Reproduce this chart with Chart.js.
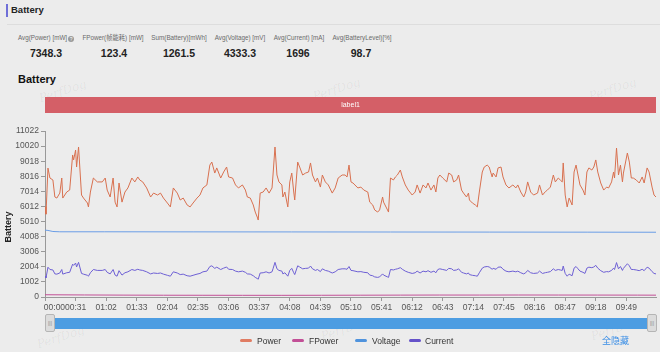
<!DOCTYPE html>
<html><head><meta charset="utf-8">
<script src="https://cdn.jsdelivr.net/npm/chart.js@4.4.1/dist/chart.umd.min.js"></script>
<style>
html,body{margin:0;padding:0;}
body{width:660px;height:352px;background:#ececec;position:relative;overflow:hidden;font-family:"Liberation Sans",Arial,"Noto Sans CJK SC",sans-serif;}
#c{position:absolute;left:0;top:0;}
.abs{position:absolute;white-space:nowrap;}
.lab{position:absolute;width:90px;text-align:center;font-size:6.3px;line-height:8px;color:#6a6a6a;top:34px;}
.val{position:absolute;width:90px;text-align:center;font-size:10.5px;line-height:13px;font-weight:bold;color:#222;top:47px;}
.wm{position:absolute;font-family:"DejaVu Serif",serif;font-style:italic;font-size:12px;color:rgba(0,0,0,0.055);transform:rotate(-18deg);}
.lg{position:absolute;top:336px;font-size:8.5px;line-height:10px;color:#333;}
.ic{position:absolute;top:339px;width:12px;height:3px;border-radius:2px;}
</style></head><body>
<div class="abs" style="left:6px;top:4px;width:2px;height:13px;background:#6f6fd8"></div>
<div class="abs" style="left:11px;top:4px;font-size:9.5px;font-weight:bold;color:#222;line-height:12px">Battery</div>
<div class="abs" style="left:7px;right:0;top:24px;height:1px;background:#dddddd"></div>

<div class="lab" style="left:1px">Avg(Power) [mW]<span style="display:inline-block;width:6px;height:6px;border-radius:50%;background:#999;color:#fff;font-size:5px;line-height:6px;margin-left:1px;vertical-align:-1px">?</span></div>
<div class="lab" style="left:68px">FPower(帧能耗) [mW]</div>
<div class="lab" style="left:134px">Sum(Battery)[mWh]</div>
<div class="lab" style="left:195px">Avg(Voltage) [mV]</div>
<div class="lab" style="left:254px">Avg(Current) [mA]</div>
<div class="lab" style="left:317px">Avg(BatteryLevel)[%]</div>
<div class="val" style="left:1px">7348.3</div>
<div class="val" style="left:69px">123.4</div>
<div class="val" style="left:134px">1261.5</div>
<div class="val" style="left:195px">4333.3</div>
<div class="val" style="left:253px">1696</div>
<div class="val" style="left:316px">98.7</div>

<div class="abs" style="left:18px;top:72px;font-size:11px;font-weight:bold;color:#111;line-height:14px">Battery</div>

<div class="wm" style="left:38px;top:84px">PerfDog</div>
<div class="wm" style="left:312px;top:82px">PerfDog</div>
<div class="wm" style="left:588px;top:82px">PerfDog</div>
<div class="wm" style="left:36px;top:330px">PerfDog</div>
<div class="wm" style="left:320px;top:322px">PerfDog</div>
<div class="wm" style="left:590px;top:322px">PerfDog</div>

<canvas id="c" width="660" height="352"></canvas>

<div class="abs" style="left:47px;top:318px;width:607px;height:11px;background:#4d9de2"></div>
<div class="abs" style="left:45px;top:314px;width:10px;height:18px;background:#dcdcdc;border:1px solid #b5b5b5;border-radius:2px;box-sizing:border-box;font-size:5px;color:#888;text-align:center;line-height:16px">|||</div>
<div class="abs" style="left:647px;top:314px;width:10px;height:18px;background:#dcdcdc;border:1px solid #b5b5b5;border-radius:2px;box-sizing:border-box;font-size:5px;color:#888;text-align:center;line-height:16px">|||</div>

<div class="ic" style="left:240px;background:#e07c62"></div><div class="lg" style="left:257px">Power</div>
<div class="ic" style="left:292px;background:#c24f96"></div><div class="lg" style="left:309px">FPower</div>
<div class="ic" style="left:355px;background:#4f93dd"></div><div class="lg" style="left:372px">Voltage</div>
<div class="ic" style="left:409px;background:#6552c9"></div><div class="lg" style="left:425px">Current</div>
<div class="abs" style="left:602px;top:336px;font-size:9px;line-height:10px;color:#3a8ee6">全隐藏</div>

<script>
const times = [0,1,3,5,8,10,12,15,17,18,22,25,28,29,31,32,34,37,39,43,44,46,49,53,58,61,63,66,69,71,73,75,78,81,84,88,91,94,96,99,103,107,110,114,117,120,124,127,130,134,137,140,144,147,150,154,157,160,164,167,169,172,174,178,181,184,186,190,193,196,200,203,205,208,211,213,215,216,218,221,224,227,230,231,233,235,237,240,241,243,246,248,250,252,253,256,258,261,264,267,269,271,274,276,279,281,284,287,291,294,297,301,304,306,308,310,312,317,320,323,327,329,332,334,337,339,342,343,347,348,350,353,355,357,360,362,365,368,372,375,377,380,383,386,388,391,394,396,398,400,403,407,409,412,414,417,419,422,424,427,429,430,433,436,438,440,443,445,448,450,453,454,457,459,462,464,467,470,474,477,479,482,485,487,489,492,495,499,501,504,507,509,512,515,517,520,522,524,525,527,529,531,534,536,538,540,542,545,547,549,551,554,556,558,560,563,566,569,571,574,576,577,579,581,583,585,586,589,590,592,594,596,599,602,605,607,610,612,615,617,619];
const power = [6000,5500,8560,7900,7770,6640,6570,6900,7900,6570,6970,7100,9430,9100,9760,8630,9960,6770,6570,6240,5980,6970,7900,7640,7640,7900,7100,6640,7900,6300,5980,7570,6300,6970,7240,7900,7640,7970,7770,7640,7240,6640,6900,6770,6900,6570,6240,5980,7240,6900,6440,6570,6110,5980,6240,6570,6770,7240,7440,8760,8960,8230,8570,7900,8300,8630,7970,7900,7440,7240,7440,7100,6640,6570,6110,5640,5310,5110,6900,6970,7240,6900,7240,8100,9960,8100,7640,7440,6640,6970,5980,7640,8230,6970,6440,8960,8630,8100,8230,8300,8900,8100,7640,7900,7300,8100,7640,7440,6900,7240,7900,8100,8100,7970,8760,7640,7570,7240,7300,7100,6970,6300,6110,5780,5640,5780,6640,6300,5780,5640,7900,7770,7970,8100,8430,7970,7440,7100,6770,6970,7440,6900,7440,7240,7570,7100,7440,6970,7900,8100,7900,7640,8230,8100,7640,7770,8100,7100,6900,6640,6900,6440,6240,6110,5980,6970,8300,8630,8760,8630,7970,8230,7970,8570,8630,7970,7440,7240,7440,7240,7440,6970,6640,6970,7640,6970,6770,6900,7440,6770,7000,7100,7300,8100,7640,7900,7770,7640,8900,6770,5980,6570,6110,8300,8760,8100,7440,7100,6770,8300,8570,8430,8630,9100,8300,7570,7100,7300,7240,7640,8300,7900,9890,8100,8760,7640,8230,9230,9560,8960,7900,7900,7770,7570,7970,7570,8570,8300,7300,6770,6640];
const current = [1386,1270,1977,1825,1795,1534,1518,1594,1825,1518,1610,1640,2178,2102,2255,1994,2301,1564,1518,1441,1381,1610,1825,1765,1765,1825,1640,1534,1825,1455,1381,1749,1455,1610,1672,1825,1765,1841,1795,1765,1672,1534,1594,1564,1594,1518,1441,1381,1672,1594,1488,1518,1411,1381,1441,1518,1564,1672,1719,2024,2070,1901,1980,1825,1917,1994,1841,1825,1719,1672,1719,1640,1534,1518,1411,1303,1227,1180,1594,1610,1672,1594,1672,1871,2301,1871,1765,1719,1534,1610,1381,1765,1901,1610,1488,2070,1994,1871,1901,1917,2056,1871,1765,1825,1686,1871,1765,1719,1594,1672,1825,1871,1871,1841,2024,1765,1749,1672,1686,1640,1610,1455,1411,1335,1303,1335,1534,1455,1335,1303,1825,1795,1841,1871,1947,1841,1719,1640,1564,1610,1719,1594,1719,1672,1749,1640,1719,1610,1825,1871,1825,1765,1901,1871,1765,1795,1871,1640,1594,1534,1594,1488,1441,1411,1381,1610,1917,1994,2024,1994,1841,1901,1841,1980,1994,1841,1719,1672,1719,1672,1719,1610,1534,1610,1765,1610,1564,1594,1719,1564,1617,1640,1686,1871,1765,1825,1795,1765,2056,1564,1381,1518,1411,1917,2024,1871,1719,1640,1564,1917,1980,1947,1994,2102,1917,1749,1640,1686,1672,1765,1917,1825,2285,1871,2024,1765,1901,2132,2208,2070,1825,1825,1795,1749,1841,1749,1980,1917,1686,1564,1534];
const voltTimes = [0,3,8,15,60,150,250,350,450,550,619];
const voltage = [4440,4420,4350,4330,4330,4325,4320,4315,4310,4305,4300];
const fpTimes = [0,40,80,120,160,200,240,280,320,360,400,440,480,520,560,600,619];
const fpower = [150,135,125,118,115,112,110,115,120,125,130,128,132,130,128,125,122];
const yTickVals = [0,1002,2004,3006,4008,5010,6012,7014,8016,9018,10020,11022];
const xTickVals = [0,31,62,93,124,155,186,217,248,279,310,341,372,403,434,465,496,527,558,589];
const xTickLabels = ['00:00','00:31','01:02','01:33','02:04','02:35','03:06','03:37','04:08','04:39','05:10','05:41','06:12','06:43','07:14','07:45','08:16','08:47','09:18','09:49'];
const seriesNames = ['Power','FPower','Voltage','Current'];
const seriesColors = ['#d8704f','#c24f96','#6a9de6','#6d5fd4'];
const rangeLabel = 'label1';
const yTitle = 'Battery';

const pts = (xs, ys) => xs.map((x, i) => ({x: x, y: ys[i]}));

const overlay = {
  id: 'overlay',
  afterDraw(chart) {
    const ctx = chart.ctx, a = chart.chartArea;
    ctx.save();
    ctx.fillStyle = '#d45f67';
    ctx.fillRect(a.left, 97, a.right - a.left, 16);
    ctx.fillStyle = '#ffffff';
    ctx.font = '7px "Liberation Sans", Arial, sans-serif';
    ctx.textAlign = 'center';
    ctx.textBaseline = 'middle';
    ctx.fillText(rangeLabel, (a.left + a.right) / 2, 105.5);
    ctx.translate(9, 227);
    ctx.rotate(-Math.PI / 2);
    ctx.fillStyle = '#222';
    ctx.font = 'bold 9px "Liberation Sans", Arial, sans-serif';
    ctx.fillText(yTitle, 0, 0);
    ctx.restore();
  }
};

new Chart(document.getElementById('c'), {
  type: 'line',
  data: {
    datasets: [
      {label: seriesNames[0], data: pts(times, power), borderColor: seriesColors[0]},
      {label: seriesNames[1], data: pts(fpTimes, fpower), borderColor: seriesColors[1]},
      {label: seriesNames[2], data: pts(voltTimes, voltage), borderColor: seriesColors[2]},
      {label: seriesNames[3], data: pts(times, current), borderColor: seriesColors[3]}
    ]
  },
  options: {
    responsive: false,
    animation: false,
    events: [],
    layout: {padding: {left: 0, top: 131, right: 4, bottom: 39}},
    elements: {point: {radius: 0}, line: {borderWidth: 1, tension: 0}},
    plugins: {legend: {display: false}, tooltip: {enabled: false}},
    scales: {
      x: {
        type: 'linear', min: 0, max: 619,
        afterBuildTicks: s => { s.ticks = xTickVals.map(v => ({value: v})); },
        afterFit: s => { s.height = 16; },
        ticks: {
          autoSkip: false, maxRotation: 0, minRotation: 0, padding: 2,
          color: '#555', font: {size: 8.5, family: '"Liberation Sans", Arial, sans-serif'},
          callback: (v, i) => i === 0 ? '        ' + xTickLabels[0] : xTickLabels[i]
        },
        grid: {display: true, drawOnChartArea: false, drawTicks: true, tickLength: 4, color: '#999'},
        border: {display: true, color: '#999'}
      },
      y: {
        min: 0, max: 11022,
        afterBuildTicks: s => { s.ticks = yTickVals.map(v => ({value: v})); },
        afterFit: s => { s.width = 45; },
        ticks: {
          padding: 2, color: '#555', font: {size: 8.5, family: '"Liberation Sans", Arial, sans-serif'},
          callback: v => String(v)
        },
        grid: {display: true, drawOnChartArea: false, drawTicks: true, tickLength: 4, color: '#999'},
        border: {display: true, color: '#999'}
      }
    }
  },
  plugins: [overlay]
});
</script>
</body></html>
